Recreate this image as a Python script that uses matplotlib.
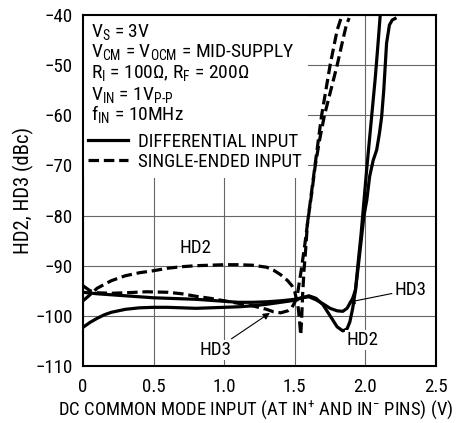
import matplotlib
matplotlib.use("Agg")
import matplotlib.pyplot as plt
import matplotlib.font_manager as fm
from matplotlib.lines import Line2D
from matplotlib.patches import Rectangle

# ---- data ----
diff_hd2_x = [0, 0.05, 0.1, 0.15, 0.2, 0.3, 0.4, 0.5, 0.6, 0.7, 0.8, 0.9, 1.0, 1.1, 1.2, 1.3, 1.4,
              1.5, 1.55, 1.6, 1.65, 1.7, 1.75, 1.8, 1.84, 1.87, 1.89, 1.91, 1.93, 1.95, 1.97, 1.99,
              2.01, 2.03, 2.05, 2.07, 2.09, 2.105]
diff_hd2_y = [-102.3, -101.3, -100.5, -99.8, -99.3, -98.7, -98.4, -98.3, -98.3, -98.4, -98.5, -98.4,
              -98.3, -98.2, -98.0, -97.7, -97.3, -96.9, -96.4, -96.0, -96.5, -97.8, -100.0, -102.2,
              -103.0, -102.6, -101.2, -98.5, -94.8, -89.0, -83.5, -77.0, -70.5, -64.5, -58.5, -52.5,
              -45.5, -40.0]

diff_hd3_x = [0, 0.1, 0.2, 0.3, 0.4, 0.5, 0.6, 0.7, 0.8, 0.9, 1.0, 1.1, 1.2, 1.3, 1.4, 1.5, 1.55,
              1.6, 1.65, 1.7, 1.75, 1.8, 1.84, 1.87, 1.89, 1.91, 1.93, 1.95, 1.97, 1.99, 2.01, 2.03,
              2.055, 2.08, 2.1, 2.115, 2.13, 2.14, 2.15, 2.17, 2.19, 2.21]
diff_hd3_y = [-95.3, -95.6, -95.8, -96.0, -96.2, -96.4, -96.5, -96.6, -96.7, -96.9, -97.1, -97.3,
              -97.3, -97.2, -97.0, -96.7, -96.4, -96.2, -96.8, -97.6, -98.5, -99.0, -99.1, -98.5,
              -97.5, -96.5, -94.8, -90.0, -85.0, -80.0, -76.9, -72.2, -69.0, -66.9, -63.5, -60.3,
              -55.0, -50.3, -45.6, -42.0, -41.0, -40.7]

se_hd2_x = [0, 0.05, 0.1, 0.2, 0.3, 0.4, 0.5, 0.6, 0.7, 0.8, 0.9, 1.0, 1.1, 1.2, 1.3, 1.35, 1.4,
            1.45, 1.48, 1.5, 1.525, 1.535, 1.542, 1.548, 1.555, 1.565, 1.575, 1.59, 1.62, 1.65,
            1.69, 1.75, 1.80, 1.835]
se_hd2_y = [-97.0, -95.8, -94.5, -93.0, -92.0, -91.4, -91.0, -90.5, -90.2, -90.0, -89.9, -89.8,
            -89.8, -89.9, -90.3, -90.9, -91.8, -93.0, -94.0, -95.2, -98.5, -101.5, -103.8, -101.0,
            -96.0, -91.0, -87.5, -81.5, -75.0, -68.5, -60.0, -50.0, -43.0, -40.0]

se_hd3_x = [0, 0.05, 0.1, 0.2, 0.3, 0.45, 0.6, 0.7, 0.8, 0.9, 1.0, 1.1, 1.2, 1.3, 1.35, 1.4, 1.45,
            1.48, 1.5, 1.52, 1.545, 1.57, 1.595, 1.62, 1.645, 1.675, 1.71, 1.755, 1.80, 1.84,
            1.865, 1.885]
se_hd3_y = [-94.0, -95.0, -95.4, -95.5, -95.4, -95.2, -95.3, -95.6, -96.1, -96.5, -97.0, -97.5,
            -98.0, -98.7, -99.2, -99.4, -99.0, -98.3, -97.3, -95.5, -91.0, -86.0, -80.5, -75.5,
            -70.0, -65.0, -60.0, -55.0, -50.0, -45.0, -42.0, -40.6]

x_ticks = [0, 0.5, 1.0, 1.5, 2.0, 2.5]
x_tick_labels = ['0', '0.5', '1.0', '1.5', '2.0', '2.5']
y_ticks = [-110, -100, -90, -80, -70, -60, -50, -40]
y_tick_labels = ['\u2212110', '\u2212100', '\u221290', '\u221280', '\u221270', '\u221260',
                 '\u221250', '\u221240']

info_lines = [r'V$_{\mathrm{S}}$ = 3V',
              r'V$_{\mathrm{CM}}$ = V$_{\mathrm{OCM}}$ = MID-SUPPLY',
              r'R$_{\mathrm{I}}$ = 100$\Omega$, R$_{\mathrm{F}}$ = 200$\Omega$',
              r'V$_{\mathrm{IN}}$ = 1V$_{\mathrm{P\text{-}P}}$',
              r'f$_{\mathrm{IN}}$ = 10MHz']
legend_labels = ['DIFFERENTIAL INPUT', 'SINGLE-ENDED INPUT']
x_label = 'DC COMMON MODE INPUT (AT IN$^{+}$ AND IN$^{\u2212}$ PINS) (V)'
y_label = 'HD2, HD3 (dBc)'


# ---- font: prefer a narrow / condensed sans ----
def pick_font():
    entries = fm.fontManager.ttflist
    names = set(e.name for e in entries)
    for fam in ['Liberation Sans Narrow', 'Arial Narrow', 'Roboto Condensed',
                'Open Sans Condensed', 'Noto Sans Condensed', 'DejaVu Sans Condensed']:
        if fam in names:
            return fam, 'normal'
    for st in ['condensed', 'semi-condensed']:
        for fam in ['Noto Sans', 'DejaVu Sans', 'Open Sans', 'Roboto', 'Liberation Sans']:
            for e in entries:
                if (e.name == fam and str(e.stretch) == st and e.style == 'normal'
                        and str(e.weight) in ('400', 'normal', 'regular', 'book')):
                    return fam, st
    return 'Liberation Sans', 'normal'


FAM, STRETCH = pick_font()
plt.rcParams['font.family'] = [FAM, 'DejaVu Sans']
plt.rcParams['font.stretch'] = STRETCH
plt.rcParams['mathtext.fontset'] = 'custom'
spec = FAM if STRETCH == 'normal' else '%s:stretch=%s' % (FAM, STRETCH)
plt.rcParams['mathtext.rm'] = spec
plt.rcParams['mathtext.it'] = spec
plt.rcParams['mathtext.bf'] = spec
plt.rcParams['mathtext.sf'] = spec

fig = plt.figure(figsize=(4.59, 4.23), dpi=100)
try:
    fig.text(0, 0, info_lines[3] + r' $\Omega$').draw(fig.canvas.get_renderer())
except Exception:
    plt.rcParams['mathtext.fontset'] = 'dejavusans'
    info_lines[3] = r'V$_{\mathrm{IN}}$ = 1V$_{\mathrm{P}‐\mathrm{P}}$'
fig.clf()
renderer = fig.canvas.get_renderer()


def size_for(s, target_px, base=10.0):
    t = fig.text(0, 0, s, fontsize=base)
    w = t.get_window_extent(renderer).width
    t.remove()
    return base * target_px / w


fs_tick = size_for('\u2212110', 37)
fs_info = size_for(info_lines[1], 204)
fs_leg = size_for(legend_labels[0], 160)
fs_xl = size_for(x_label, 397)
fs_yl = size_for(y_label, 127)
fs_ann = size_for('HD2', 32)

ax = fig.add_axes([0.1808, 0.1348, 0.9499 - 0.1808, 0.9645 - 0.1348])

LW = 2.3
DASH = (3.3, 1.5)
ax.plot(diff_hd2_x, diff_hd2_y, color='black', lw=LW, zorder=3)
ax.plot(diff_hd3_x, diff_hd3_y, color='black', lw=LW, zorder=3)
ax.plot(se_hd2_x, se_hd2_y, color='black', lw=LW, dashes=DASH, zorder=3)
ax.plot(se_hd3_x, se_hd3_y, color='black', lw=LW, dashes=DASH, zorder=3)

ax.set_xlim(0, 2.5)
ax.set_ylim(-110, -40)
ax.set_xticks(x_ticks)
ax.set_xticklabels(x_tick_labels)
ax.set_yticks(y_ticks)
ax.set_yticklabels(y_tick_labels)
ax.tick_params(length=0, labelsize=fs_tick)
ax.tick_params(axis='x', pad=8.5)
ax.tick_params(axis='y', pad=7.5)
ax.set_axisbelow(True)
ax.grid(True, color='#666666', lw=0.8)
for s in ax.spines.values():
    s.set_linewidth(1.5)

# white box behind the notes (covers grid)
ax.add_patch(Rectangle((0, 0.535), 0.637, 0.465, transform=ax.transAxes,
                       facecolor='white', edgecolor='none', zorder=1))

info_y = [0.938, 0.881, 0.820, 0.758, 0.701]
for t, yy in zip(info_lines, info_y):
    ax.text(0.022, yy, t, transform=ax.transAxes, fontsize=fs_info, va='baseline',
            ha='left', zorder=4)

handles = [Line2D([], [], color='black', lw=LW),
           Line2D([], [], color='black', lw=LW, dashes=DASH)]
px_per_pt = 100 / 72.0
leg = ax.legend(handles, legend_labels, loc='upper left', bbox_to_anchor=(0.014, 0.665),
                frameon=False, fontsize=fs_leg,
                handlelength=40 / (fs_leg * px_per_pt),
                handletextpad=10 / (fs_leg * px_per_pt),
                labelspacing=max(0.05, (21 - fs_leg * px_per_pt) / (fs_leg * px_per_pt)),
                borderpad=0, borderaxespad=0)
leg.set_zorder(4)

ax.set_xlabel(x_label, fontsize=fs_xl)
ax.xaxis.set_label_coords(0.49, -0.125)
ax.xaxis.label.set_va('center')
ax.set_ylabel(y_label, fontsize=fs_yl)
ax.yaxis.set_label_coords(-0.168, 0.5)
ax.yaxis.label.set_va('center')

bb = dict(facecolor='white', edgecolor='none', pad=1)
ap = dict(arrowstyle='-|>', lw=0.8, color='black', mutation_scale=10, shrinkA=1, shrinkB=0)
ax.text(0.80, -86.5, 'HD2', fontsize=fs_ann, ha='center', va='center', zorder=4)
ax.text(1.976, -104.8, 'HD2', fontsize=fs_ann, ha='center', va='center', zorder=4, bbox=bb)
ax.annotate('HD3', xy=(1.324, -99.4), xytext=(0.935, -106.8), fontsize=fs_ann, ha='center',
            va='center', arrowprops=ap, zorder=4, bbox=bb)
ax.annotate('HD3', xy=(1.877, -97.3), xytext=(2.32, -94.8), fontsize=fs_ann, ha='center',
            va='center', arrowprops=ap, zorder=4, bbox=bb)

fig.savefig('out.png', dpi=100)
